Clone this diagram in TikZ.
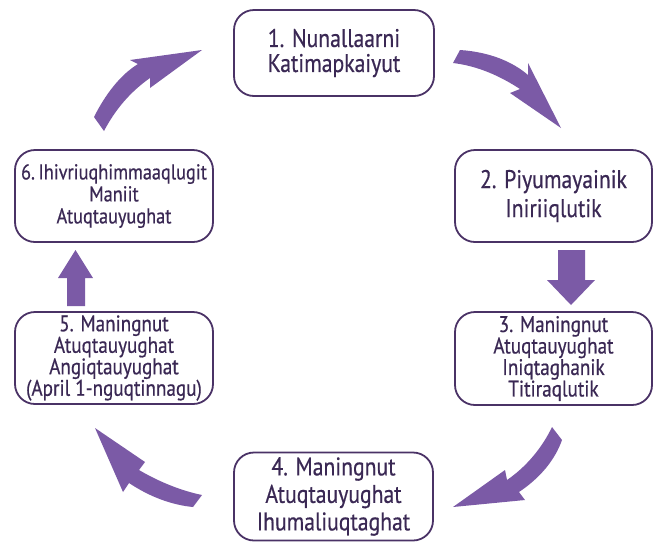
\documentclass[tikz,border=0pt]{standalone}
\usepackage{fontspec}
\setmainfont[FakeStretch=0.85,FakeBold=0.5]{PT Sans}
\definecolor{arrowc}{HTML}{7B5AA6}
\definecolor{boxc}{HTML}{4A3266}
\definecolor{textc}{HTML}{3A2854}
\begin{document}
\begin{tikzpicture}[x=1pt,y=-1pt,
  box/.style={draw=boxc, line width=1.8pt, rounded corners=20pt, fill=white,
    text=textc, align=center, inner sep=0pt},
  bigtxt/.style={font=\fontsize{25.5}{25}\selectfont},
  bigtxtb/.style={font=\fontsize{25.5}{29}\selectfont},
  smalltxt/.style={font=\fontsize{22.5}{21.5}\selectfont},
  arr/.style={fill=arrowc, draw=none}]
\useasboundingbox (0,0) rectangle (653,547);

\node[box, bigtxt, minimum width=200pt, minimum height=86pt] (b1) at (334,53)
  {1. Nunallaarni\\Katimapkaiyut};
\node[box, bigtxtb, minimum width=197pt, minimum height=92pt] (b2) at (553.5,196)
  {2. Piyumayainik\\Iniriiqlutik};
\node[box, smalltxt, minimum width=197pt, minimum height=93pt] (b3) at (553.5,358.5)
  {3. Maningnut\\Atuqtauyughat\\Iniqtaghanik\\Titiraqlutik};
\node[box, font=\fontsize{25.5}{27.5}\selectfont, minimum width=199pt, minimum height=88pt] (b4) at (333.5,496.5)
  {4. Maningnut\\Atuqtauyughat\\Ihumaliuqtaghat};
\node[box, smalltxt, minimum width=198pt, minimum height=92pt] (b5) at (114,358)
  {5. Maningnut\\Atuqtauyughat\\Angiqtauyughat\\(April 1-nguqtinnagu)};
\node[box, font=\fontsize{21.5}{22}\selectfont, minimum width=198pt, minimum height=92pt] (b6) at (114,196)
  {6.\,Ihivriuqhimmaaqlugit\\Maniit\\Atuqtauyughat};

% top-right curved arrow (1 -> 2)
\fill[arr] (460,50) .. controls (490,52) and (513,62) .. (528,75) -- (528,63) -- (561,128)
  -- (510,93) -- (520,89) .. controls (500,76) and (478,66) .. (453,63) -- cycle;
% straight down arrow (2 -> 3)
\fill[arr] (558,250) -- (585,250) -- (585,280) -- (595,280) -- (571,305) -- (547,280)
  -- (558,280) -- cycle;
% bottom-right curved arrow (3 -> 4)
\fill[arr] (552,427) .. controls (542,448) and (526,467) .. (507,480) -- (505,470) -- (453,507)
  -- (525,500) -- (519,492) .. controls (540,478) and (555,460) .. (562,440) -- cycle;
% bottom-left curved arrow (4 -> 5)
\fill[arr] (202,495) .. controls (178,490) and (156,480) .. (139,470) -- (145,462) -- (95,428)
  -- (123,492) -- (129,483) .. controls (150,497) and (172,505) .. (193,507) -- cycle;
% straight up arrow (5 -> 6)
\fill[arr] (67,306) -- (85,306) -- (85,278) -- (93,278) -- (75.5,250) -- (58,278)
  -- (67,278) -- cycle;
% top-left curved arrow (6 -> 1)
\fill[arr] (94,117) .. controls (105,95) and (120,75) .. (138,64) -- (130,60) -- (202,50)
  -- (150,88) -- (150,78) .. controls (130,92) and (115,110) .. (104,131) -- cycle;
\end{tikzpicture}
\end{document}
